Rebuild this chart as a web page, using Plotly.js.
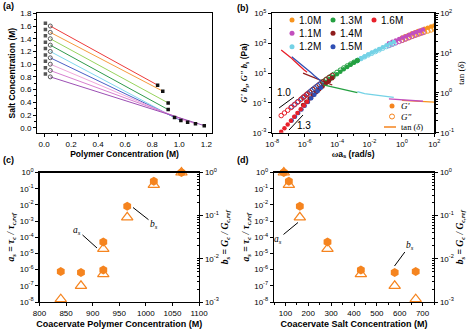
<!DOCTYPE html>
<html>
<head>
<meta charset="utf-8">
<script src="https://cdn.plot.ly/plotly-3.0.1.min.js"></script>
<style>
body { margin: 0; background: #fff; }
#chart { width: 470px; height: 334px; }
</style>
</head>
<body>
<div id="chart"></div>
<script>
// ---- (a) phase diagram, tie lines ----
var tieColors = ['#ee3b3b', '#f79a3e', '#98d45e', '#2f9a4c', '#7fd8ee', '#4a5fc6', '#f0a8dc', '#d77fd0', '#9c4fb4'];
var feedPolymer = [0.01, 0.01, 0.01, 0.01, 0.01, 0.01, 0.01, 0.01, 0.01];
var feedSalt = [1.645, 1.545, 1.445, 1.345, 1.245, 1.145, 1.045, 0.945, 0.845];
var dilutePolymer = [0.046, 0.046, 0.046, 0.046, 0.046, 0.046, 0.046, 0.046, 0.046];
var diluteSalt = [1.6, 1.5, 1.4, 1.3, 1.2, 1.1, 1.0, 0.9, 0.8];
var coacPolymer = [0.84, 0.878, 0.918, 0.918, 0.965, 1.012, 1.062, 1.12, 1.185];
var coacSalt = [0.67, 0.575, 0.39, 0.285, 0.16, 0.115, 0.088, 0.062, 0.033];

// ---- (b) master curves, one set per salt concentration ----
var saltLabels = ['1.0M', '1.1M', '1.2M', '1.3M', '1.4M', '1.5M', '1.6M'];
var saltColors = ['#f7941d', '#c24fbd', '#74d2e6', '#24a041', '#8e1c1c', '#2f4fb4', '#e8202a'];

var freq_10 = [1, 1.58, 2.51, 3.98, 6.31, 10, 15.8, 25.1, 39.8, 63.1, 100];
var gp_10 = [2340, 2900, 3580, 4390, 5320, 6460, 7690, 9160, 10900, 12800, 15100];
var gpp_10 = [1510, 1850, 2270, 2750, 3310, 3980, 4700, 5550, 6520, 7620, 8910];
var tand_10 = [0.646, 0.640, 0.634, 0.628, 0.622, 0.617, 0.611, 0.605, 0.600, 0.594, 0.589];

var freq_11 = [0.158, 0.257, 0.417, 0.676, 1.10, 1.78, 2.88, 4.68, 7.59, 12.3, 20.0];
var gp_11 = [973, 1220, 1520, 1890, 2360, 2950, 3700, 4570, 5620, 6860, 8280];
var gpp_11 = [689, 851, 1050, 1290, 1580, 1950, 2410, 2940, 3570, 4290, 5110];
var tand_11 = [0.708, 0.698, 0.689, 0.679, 0.670, 0.661, 0.652, 0.643, 0.634, 0.625, 0.617];

var freq_12 = [1.78e-3, 2.99e-3, 5.01e-3, 8.41e-3, 0.0141, 0.0237, 0.0398, 0.0668, 0.112, 0.188, 0.316];
var gp_12 = [64.6, 92.5, 128, 174, 232, 308, 407, 541, 728, 935, 1200];
var gpp_12 = [69.2, 92.5, 122, 162, 211, 274, 355, 460, 592, 743, 933];
var tand_12 = [1.07, 1.0, 0.955, 0.933, 0.912, 0.891, 0.871, 0.851, 0.813, 0.794, 0.776];

var freq_13 = [1.41e-5, 2.29e-5, 3.72e-5, 6.03e-5, 9.77e-5, 1.58e-4, 2.57e-4, 4.17e-4, 6.76e-4, 1.10e-3, 1.78e-3];
var gp_13 = [1.72, 2.60, 3.89, 5.70, 8.38, 12.3, 18.0, 25.7, 36.0, 50.0, 68.5];
var gpp_13 = [2.72, 3.93, 5.61, 7.87, 11.0, 15.5, 21.7, 29.6, 39.6, 52.7, 69.2];
var tand_13 = [1.58, 1.51, 1.44, 1.38, 1.32, 1.26, 1.21, 1.15, 1.10, 1.05, 1.01];

var freq_14 = [7.94e-7, 1.26e-6, 2.0e-6, 3.16e-6, 5.01e-6, 7.94e-6, 1.26e-5, 2.0e-5, 3.16e-5, 5.01e-5];
var gp_14 = [0.0729, 0.119, 0.195, 0.318, 0.506, 0.804, 1.25, 1.92, 2.94, 4.38];
var gpp_14 = [0.229, 0.347, 0.525, 0.794, 1.17, 1.72, 2.49, 3.53, 5.01, 6.92];
var tand_14 = [3.14, 2.91, 2.70, 2.50, 2.31, 2.14, 1.99, 1.84, 1.71, 1.58];

var freq_15 = [1.58e-7, 2.51e-7, 3.98e-7, 6.31e-7, 1.0e-6, 1.58e-6, 2.51e-6, 3.98e-6, 6.31e-6, 1.0e-5];
var gp_15 = [6.61e-3, 0.0117, 0.0207, 0.0365, 0.0646, 0.114, 0.201, 0.352, 0.604, 1.04];
var gpp_15 = [0.0537, 0.0813, 0.123, 0.186, 0.282, 0.427, 0.646, 0.964, 1.42, 2.09];
var tand_15 = [8.1, 7.0, 6.0, 5.1, 4.4, 3.7, 3.2, 2.7, 2.3, 2.0];

var freq_16 = [3.55e-8, 5.62e-8, 8.91e-8, 1.41e-7, 2.24e-7, 3.55e-7, 5.62e-7, 8.91e-7, 1.41e-6];
var gp_16 = [1.16e-3, 2.01e-3, 3.48e-3, 6.27e-3, 0.0115, 0.0211, 0.0376, 0.0664, 0.117];
var gpp_16 = [0.0140, 0.0211, 0.0320, 0.0484, 0.0733, 0.111, 0.168, 0.254, 0.385];
var tand_16 = [12.0, 10.5, 9.2, 7.7, 6.4, 5.3, 4.5, 3.8, 3.3];

var freqs = [freq_10, freq_11, freq_12, freq_13, freq_14, freq_15, freq_16];
var gps = [gp_10, gp_11, gp_12, gp_13, gp_14, gp_15, gp_16];
var gpps = [gpp_10, gpp_11, gpp_12, gpp_13, gpp_14, gpp_15, gpp_16];
var tands = [tand_10, tand_11, tand_12, tand_13, tand_14, tand_15, tand_16];

// ---- (c), (d) shift factors ----
var coacPolymerConc = [840, 878, 920, 920, 965, 1015, 1067];
var coacSaltConc = [670, 578, 430, 284, 163, 115, 93];
var aShift = [1.5e-8, 1.0e-7, 5.2e-7, 1.9e-5, 1.7e-3, 0.17, 1.0];
var bShift = [5.1e-3, 4.8e-3, 5.5e-3, 0.0245, 0.166, 0.63, 1.0];

var decadeVals8 = [1, 0.1, 0.01, 1e-3, 1e-4, 1e-5, 1e-6, 1e-7, 1e-8];
var decadeText8 = ['10<sup>0</sup>', '10<sup>-1</sup>', '10<sup>-2</sup>', '10<sup>-3</sup>', '10<sup>-4</sup>',
  '10<sup>-5</sup>', '10<sup>-6</sup>', '10<sup>-7</sup>', '10<sup>-8</sup>'];
var decadeVals3 = [1, 0.1, 0.01, 1e-3];
var decadeText3 = ['10<sup>0</sup>', '10<sup>-1</sup>', '10<sup>-2</sup>', '10<sup>-3</sup>'];

var W = 470, H = 334;
function px(x) { return x / W; }
function py(y) { return 1 - y / H; }

var orange = '#f5841f';
var sans = 'Liberation Sans, Arial, sans-serif';
var serif = 'Liberation Serif, Times New Roman, serif';

var data = [];

// (a)
for (var i = 0; i < tieColors.length; i++) {
    data.push({
        type: 'scatter', mode: 'lines', xaxis: 'x', yaxis: 'y',
        x: [dilutePolymer[i], coacPolymer[i]],
        y: [diluteSalt[i], coacSalt[i]],
        line: {color: tieColors[i], width: 1},
        hoverinfo: 'skip'
    });
}
data.push({
    type: 'scatter', mode: 'markers', xaxis: 'x', yaxis: 'y',
    x: feedPolymer, y: feedSalt,
    marker: {symbol: 'square', size: 3.5, color: '#555'}
});
data.push({
    type: 'scatter', mode: 'markers', xaxis: 'x', yaxis: 'y',
    x: dilutePolymer, y: diluteSalt,
    marker: {symbol: 'circle-open', size: 4, color: '#555', line: {width: 1}}
});
data.push({
    type: 'scatter', mode: 'markers', xaxis: 'x', yaxis: 'y',
    x: coacPolymer, y: coacSalt,
    marker: {symbol: 'square', size: 3.5, color: '#111'}
});

// (b) markers
for (var s = 0; s < saltLabels.length; s++) {
    data.push({
        type: 'scatter', mode: 'markers', xaxis: 'x2', yaxis: 'y2',
        name: saltLabels[s] + " G''",
        x: freqs[s], y: gpps[s],
        marker: {symbol: 'circle-open', size: 4.5, color: saltColors[s], line: {width: 1}}
    });
    data.push({
        type: 'scatter', mode: 'markers', xaxis: 'x2', yaxis: 'y2',
        name: saltLabels[s] + " G'",
        x: freqs[s], y: gps[s],
        marker: {symbol: 'circle', size: 4.5, color: saltColors[s]}
    });
}
// (b) tan delta
for (var s = 0; s < saltLabels.length; s++) {
    data.push({
        type: 'scatter', mode: 'lines', xaxis: 'x2', yaxis: 'y3',
        name: saltLabels[s] + ' tan',
        x: freqs[s], y: tands[s],
        line: {color: saltColors[s], width: 1.3}
    });
}

// (c)
data.push({
    type: 'scatter', mode: 'markers', xaxis: 'x3', yaxis: 'y4',
    x: coacPolymerConc, y: aShift,
    marker: {symbol: 'triangle-up-open', size: 10, color: orange, line: {width: 1.2}},
    cliponaxis: false
});
data.push({
    type: 'scatter', mode: 'markers', xaxis: 'x3', yaxis: 'y5',
    x: coacPolymerConc, y: bShift,
    marker: {symbol: 'hexagon', size: 9, color: orange},
    cliponaxis: false
});
// (d)
data.push({
    type: 'scatter', mode: 'markers', xaxis: 'x4', yaxis: 'y6',
    x: coacSaltConc, y: aShift,
    marker: {symbol: 'triangle-up-open', size: 10, color: orange, line: {width: 1.2}},
    cliponaxis: false
});
data.push({
    type: 'scatter', mode: 'markers', xaxis: 'x4', yaxis: 'y7',
    x: coacSaltConc, y: bShift,
    marker: {symbol: 'hexagon', size: 9, color: orange},
    cliponaxis: false
});

data.forEach(function(t) { t.showlegend = false; });

var tickFont = {family: sans, size: 8, color: '#000'};
var titleSans = {family: sans, size: 8.5, color: '#000', weight: 'bold'};
var titleSerif = {family: serif, size: 9.5, color: '#000', weight: 'bold'};

function baseAxis(extra) {
    var a = {
        showgrid: false, zeroline: false, showline: true, linecolor: '#000', linewidth: 1.3,
        ticks: 'outside', ticklen: 3, tickwidth: 1, tickcolor: '#000', tickfont: tickFont
    };
    for (var k in extra) a[k] = extra[k];
    return a;
}

var oddDecades = [1e-7, 1e-5, 1e-3, 0.1, 10];
var minorLog = {tickmode: 'array', ticks: 'outside', ticklen: 2, tickcolor: '#000'};

var layout = {
    width: W, height: H,
    margin: {l: 0, r: 0, t: 0, b: 0},
    paper_bgcolor: '#fff', plot_bgcolor: 'rgba(0,0,0,0)',
    font: {family: sans, color: '#000'},
    showlegend: false,

    xaxis: baseAxis({
        domain: [px(37.3), px(211.7)], anchor: 'y', range: [-0.05, 1.24],
        tickvals: [0, 0.2, 0.4, 0.6, 0.8, 1.0, 1.2], ticktext: ['0.0', '0.2', '0.4', '0.6', '0.8', '1.0', '1.2'],
        minor: {dtick: 0.1, tick0: 0, ticks: 'outside', ticklen: 2, tickcolor: '#000'},
        mirror: true,
        title: {text: 'Polymer Concentration (M)', font: titleSans, standoff: 3}
    }),
    yaxis: baseAxis({
        domain: [py(133), py(13.3)], anchor: 'x', range: [-0.083, 1.8],
        tickvals: [0, 0.2, 0.4, 0.6, 0.8, 1.0, 1.2, 1.4, 1.6, 1.8],
        ticktext: ['0.0', '0.2', '0.4', '0.6', '0.8', '1.0', '1.2', '1.4', '1.6', '1.8'],
        minor: {dtick: 0.1, tick0: 0, ticks: 'outside', ticklen: 2, tickcolor: '#000'},
        mirror: true,
        title: {text: 'Salt Concentration (M)', font: titleSans, standoff: 3}
    }),

    xaxis2: baseAxis({
        domain: [px(272.3), px(434.3)], anchor: 'y2', type: 'log', range: [-8, 2],
        tickvals: [1e-8, 1e-6, 1e-4, 1e-2, 1, 100],
        ticktext: ['10<sup>-8</sup>', '10<sup>-6</sup>', '10<sup>-4</sup>', '10<sup>-2</sup>', '10<sup>0</sup>', '10<sup>2</sup>'],
        minor: Object.assign({tickvals: oddDecades.concat([1e-1, 10])}, minorLog),
        mirror: true,
        title: {text: '<span style="font-family:Liberation Serif"><i>ω</i></span>a<sub>s</sub> (rad/s)', font: titleSans, standoff: 2}
    }),
    yaxis2: baseAxis({
        domain: [py(132.7), py(13.3)], anchor: 'x2', type: 'log', range: [-3, 5],
        tickvals: [1e-3, 0.1, 10, 1000, 1e5],
        ticktext: ['10<sup>-3</sup>', '10<sup>-1</sup>', '10<sup>1</sup>', '10<sup>3</sup>', '10<sup>5</sup>'],
        minor: Object.assign({tickvals: [1e-2, 1, 100, 1e4]}, minorLog),
        title: {text: '<span style="font-family:Liberation Serif"><i>G\' b<sub>s</sub></i>, <i>G" b<sub>s</sub></i></span> (Pa)', font: titleSans, standoff: 3}
    }),
    yaxis3: baseAxis({
        overlaying: 'y2', side: 'right', anchor: 'x2', type: 'log', range: [-1, 2],
        tickvals: [0.1, 1, 10, 100],
        ticktext: ['10<sup>-1</sup>', '10<sup>0</sup>', '10<sup>1</sup>', '10<sup>2</sup>'],
        minor: {dtick: 'D1', ticks: 'outside', ticklen: 2, tickcolor: '#000'},
        title: {text: 'tan (<i>δ</i>)', font: {family: serif, size: 9, color: '#000'}, standoff: 4}
    }),

    xaxis3: baseAxis({
        domain: [px(39.5), px(199)], anchor: 'y4', range: [800, 1100], dtick: 50, tick0: 800,
        mirror: true,
        title: {text: 'Coacervate Polymer Concentration (M)', font: {family: sans, size: 9, color: '#000', weight: 'bold'}, standoff: 3}
    }),
    yaxis4: baseAxis({
        domain: [py(302), py(172.5)], anchor: 'x3', type: 'log', range: [-8, 0],
        tickvals: decadeVals8, ticktext: decadeText8,
        title: {text: '<i>a<sub>s</sub> = τ<sub>c</sub> / τ<sub>c,ref</sub></i>', font: titleSerif, standoff: 3}
    }),
    yaxis5: baseAxis({
        overlaying: 'y4', side: 'right', anchor: 'x3', type: 'log', range: [-3, 0],
        tickvals: decadeVals3, ticktext: decadeText3,
        minor: {dtick: 'D1', ticks: 'inside', ticklen: 2, tickcolor: '#000'},
        title: {text: '<i>b<sub>s</sub> = G<sub>c</sub> / G<sub>c,ref</sub></i>', font: titleSerif, standoff: 3}
    }),

    xaxis4: baseAxis({
        domain: [px(274), px(434)], anchor: 'y6', range: [50, 750], dtick: 100, tick0: 100,
        minor: {dtick: 50, tick0: 50, ticks: 'outside', ticklen: 2, tickcolor: '#000'},
        mirror: true,
        title: {text: 'Coacervate Salt Concentration (M)', font: {family: sans, size: 9, color: '#000', weight: 'bold'}, standoff: 3}
    }),
    yaxis6: baseAxis({
        domain: [py(302), py(172.5)], anchor: 'x4', type: 'log', range: [-8, 0],
        tickvals: decadeVals8, ticktext: decadeText8,
        title: {text: '<i>a<sub>s</sub> = τ<sub>c</sub> / τ<sub>c,ref</sub></i>', font: titleSerif, standoff: 3}
    }),
    yaxis7: baseAxis({
        overlaying: 'y6', side: 'right', anchor: 'x4', type: 'log', range: [-3, 0],
        tickvals: decadeVals3, ticktext: decadeText3,
        minor: {dtick: 'D1', ticks: 'inside', ticklen: 2, tickcolor: '#000'},
        title: {text: '<i>b<sub>s</sub> = G<sub>c</sub> / G<sub>c,ref</sub></i>', font: titleSerif, standoff: 3}
    }),

    shapes: [],
    annotations: []
};

function addText(x, y, text, font, anchor) {
    layout.annotations.push({
        xref: 'paper', yref: 'paper', x: px(x), y: py(y), text: text,
        showarrow: false, xanchor: anchor || 'left', yanchor: 'middle', font: font
    });
}
function addLine(x0, y0, x1, y1, color, width) {
    layout.shapes.push({
        type: 'line', xref: 'paper', yref: 'paper',
        x0: px(x0), y0: py(y0), x1: px(x1), y1: py(y1),
        line: {color: color || '#000', width: width || 1}
    });
}
function addDot(x, y, color, open) {
    layout.shapes.push({
        type: 'circle', xref: 'paper', yref: 'paper', xsizemode: 'pixel', ysizemode: 'pixel',
        xanchor: px(x), yanchor: py(y), x0: -2.5, x1: 2.5, y0: -2.5, y1: 2.5,
        fillcolor: open ? '#fff' : color, line: {color: color, width: open ? 1 : 0}
    });
}

// panel letters
var letterFont = {family: sans, size: 9, color: '#000', weight: 'bold'};
addText(1, 6, '(a)', letterFont);
addText(235, 8, '(b)', letterFont);
addText(1, 160, '(c)', letterFont);
addText(235, 160, '(d)', letterFont);

// (b) salt legend, 3 columns as in the figure
var legCols = [292, 292, 292, 333, 333, 333, 374];
var legRows = [20, 33.3, 46.7, 20, 33.3, 46.7, 20];
var legFont = {family: sans, size: 10, color: '#000'};
for (var s = 0; s < saltLabels.length; s++) {
    addDot(legCols[s], legRows[s], saltColors[s], false);
    addText(legCols[s] + 5, legRows[s], saltLabels[s], legFont);
}
// (b) symbol legend
var symFont = {family: serif, size: 9, color: '#000'};
addDot(392, 106, orange, false);
addText(399, 106, "<i>G'</i>", symFont);
addDot(392, 116.5, orange, true);
addText(399, 116.5, '<i>G"</i>', symFont);
addLine(384, 127, 396, 127, orange, 1.5);
addText(399, 127, 'tan (<i>δ</i>)', {family: serif, size: 8.5, color: '#000'});

// (b) slope guides
addLine(279, 108, 294, 97);
addText(284, 93, '1.0', legFont, 'center');
addLine(289, 130, 303, 115);
addText(304, 126, '1.3', legFont, 'center');

// (c), (d) pointers
var ptrFont = {family: serif, size: 9.5, color: '#000'};
function addPointer(hx, hy, tx, ty, text) {
    layout.annotations.push({
        xref: 'paper', yref: 'paper', x: px(hx), y: py(hy),
        ax: tx - hx, ay: ty - hy, text: text, font: ptrFont,
        showarrow: true, arrowhead: 0, arrowwidth: 1, arrowcolor: '#000', standoff: 0
    });
}
addPointer(97, 248, 77, 230, '<i>a<sub>s</sub></i>');
addPointer(133, 207.5, 154, 224, '<i>b<sub>s</sub></i>');
addPointer(298, 222.5, 278, 239, '<i>a<sub>s</sub></i>');
addPointer(394.5, 266, 410, 245, '<i>b<sub>s</sub></i>');

Plotly.newPlot('chart', data, layout, {staticPlot: true});
</script>
</body>
</html>
